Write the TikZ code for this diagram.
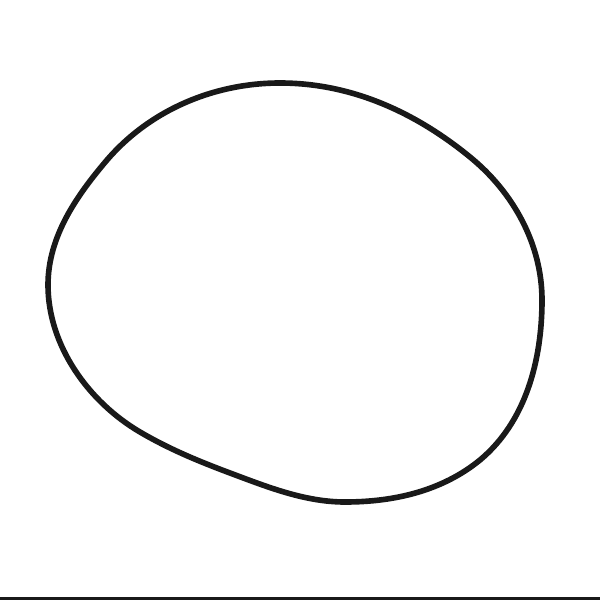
\documentclass[tikz,border=0pt]{standalone}
\usepackage{tikz}
\begin{document}
\begin{tikzpicture}[x=0.01cm,y=-0.01cm]
				\useasboundingbox (0,0) rectangle (600,600);
				\draw[line width=1.6pt,color=black!90] (280,83)
					.. controls (351,83) and (415,112) .. (470,157)
					.. controls (513,192) and (542,244) .. (542,300)
					.. controls (542,360) and (526,421.5) .. (480,460)
					.. controls (442,491) and (394,502) .. (345,502)
					.. controls (305,502) and (267.5,487) .. (230,473)
					.. controls (198,461) and (169,449) .. (140,432)
					.. controls (88,401.5) and (48,345) .. (48,285)
					.. controls (48,237) and (76,196.4) .. (107,160)
					.. controls (150,110) and (214,83) .. (280,83) -- cycle;
				\draw[line width=0.7pt,color=black!90] (0,598.5) -- (600,598.5);
			\end{tikzpicture}
\end{document}
